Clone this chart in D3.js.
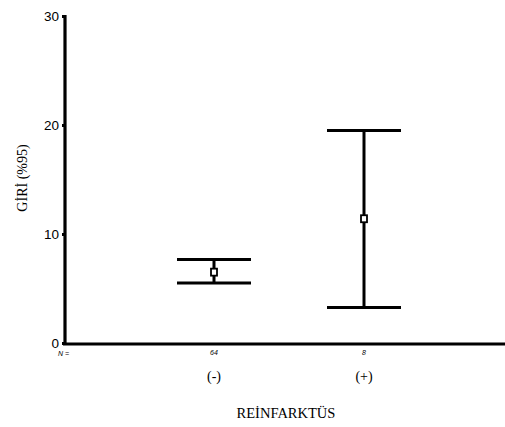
<!DOCTYPE html>
<html>
<head>
<meta charset="utf-8">
<script src="https://cdn.jsdelivr.net/npm/d3@7"></script>
<style>
  html, body { margin: 0; padding: 0; background: #fff; }
  svg { display: block; }
  .serif { font-family: "Liberation Serif", "DejaVu Serif", "Times New Roman", serif; }
  .sans { font-family: "Liberation Sans", Arial, sans-serif; }
</style>
</head>
<body>
<svg id="chart" width="505" height="427"></svg>
<script>
// Groups and their 95% confidence intervals
const groups = ["(-)", "(+)"];
const counts = ["64", "8"];
const means = [6.5, 11.4];
const lower = [5.5, 3.25];
const upper = [7.65, 19.5];
const yTicks = [0, 10, 20, 30];

const svg = d3.select("#chart");
const x = d3.scalePoint().domain(groups).range([214, 364]);
const y = d3.scaleLinear().domain([0, 30]).range([343, 16]);

// Y axis
const yAxis = svg.append("g").attr("transform", "translate(65,0)")
  .call(d3.axisLeft(y).tickValues(yTicks).tickSize(3).tickPadding(3).tickFormat(d3.format("d")));
yAxis.select(".domain").remove();
yAxis.selectAll(".tick line").attr("stroke", "#000").attr("stroke-width", 3);
yAxis.selectAll(".tick text").attr("class", "sans").attr("font-family", null)
  .attr("font-size", 13.5).attr("fill", "#000");
svg.append("line").attr("x1", 65).attr("x2", 65).attr("y1", y(30) - 1).attr("y2", y(0) + 2)
  .attr("stroke", "#000").attr("stroke-width", 3.2);

// X axis baseline
svg.append("line").attr("x1", 63).attr("x2", 505).attr("y1", y(0) + 1).attr("y2", y(0) + 1)
  .attr("stroke", "#000").attr("stroke-width", 3.2);

// N counts under the axis
svg.append("text").attr("class", "sans").attr("x", 58).attr("y", 356)
  .attr("font-style", "italic").attr("font-size", 7).text("N =");
svg.selectAll(".n").data(groups).enter().append("text").attr("class", "sans")
  .attr("x", d => x(d)).attr("y", 355).attr("text-anchor", "middle")
  .attr("font-style", "italic").attr("font-size", 7)
  .text((d, i) => counts[i]);

// Group labels
svg.selectAll(".g").data(groups).enter().append("text").attr("class", "serif")
  .attr("x", d => x(d)).attr("y", 381).attr("text-anchor", "middle")
  .attr("font-size", 14)
  .text(d => d);

// Error bars
const capHalf = 37;
const bars = svg.selectAll(".bar").data(groups).enter().append("g");
bars.append("line").attr("x1", d => x(d)).attr("x2", d => x(d))
  .attr("y1", (d, i) => y(upper[i])).attr("y2", (d, i) => y(lower[i]))
  .attr("stroke", "#000").attr("stroke-width", 3);
bars.append("line").attr("x1", d => x(d) - capHalf).attr("x2", d => x(d) + capHalf)
  .attr("y1", (d, i) => y(upper[i])).attr("y2", (d, i) => y(upper[i]))
  .attr("stroke", "#000").attr("stroke-width", 3);
bars.append("line").attr("x1", d => x(d) - capHalf).attr("x2", d => x(d) + capHalf)
  .attr("y1", (d, i) => y(lower[i])).attr("y2", (d, i) => y(lower[i]))
  .attr("stroke", "#000").attr("stroke-width", 3);
bars.append("rect").attr("x", d => x(d) - 3).attr("y", (d, i) => y(means[i]) - 3.5)
  .attr("width", 6).attr("height", 7).attr("fill", "#fff")
  .attr("stroke", "#000").attr("stroke-width", 1.8);

// Axis titles
svg.append("text").attr("class", "serif").attr("transform", "translate(27,178) rotate(-90)")
  .attr("text-anchor", "middle").attr("font-size", 14).text("GİRİ (%95)");
svg.append("text").attr("class", "serif").attr("x", 286).attr("y", 418).attr("text-anchor", "middle")
  .attr("font-size", 14.5).text("REİNFARKTÜS");
</script>
</body>
</html>
